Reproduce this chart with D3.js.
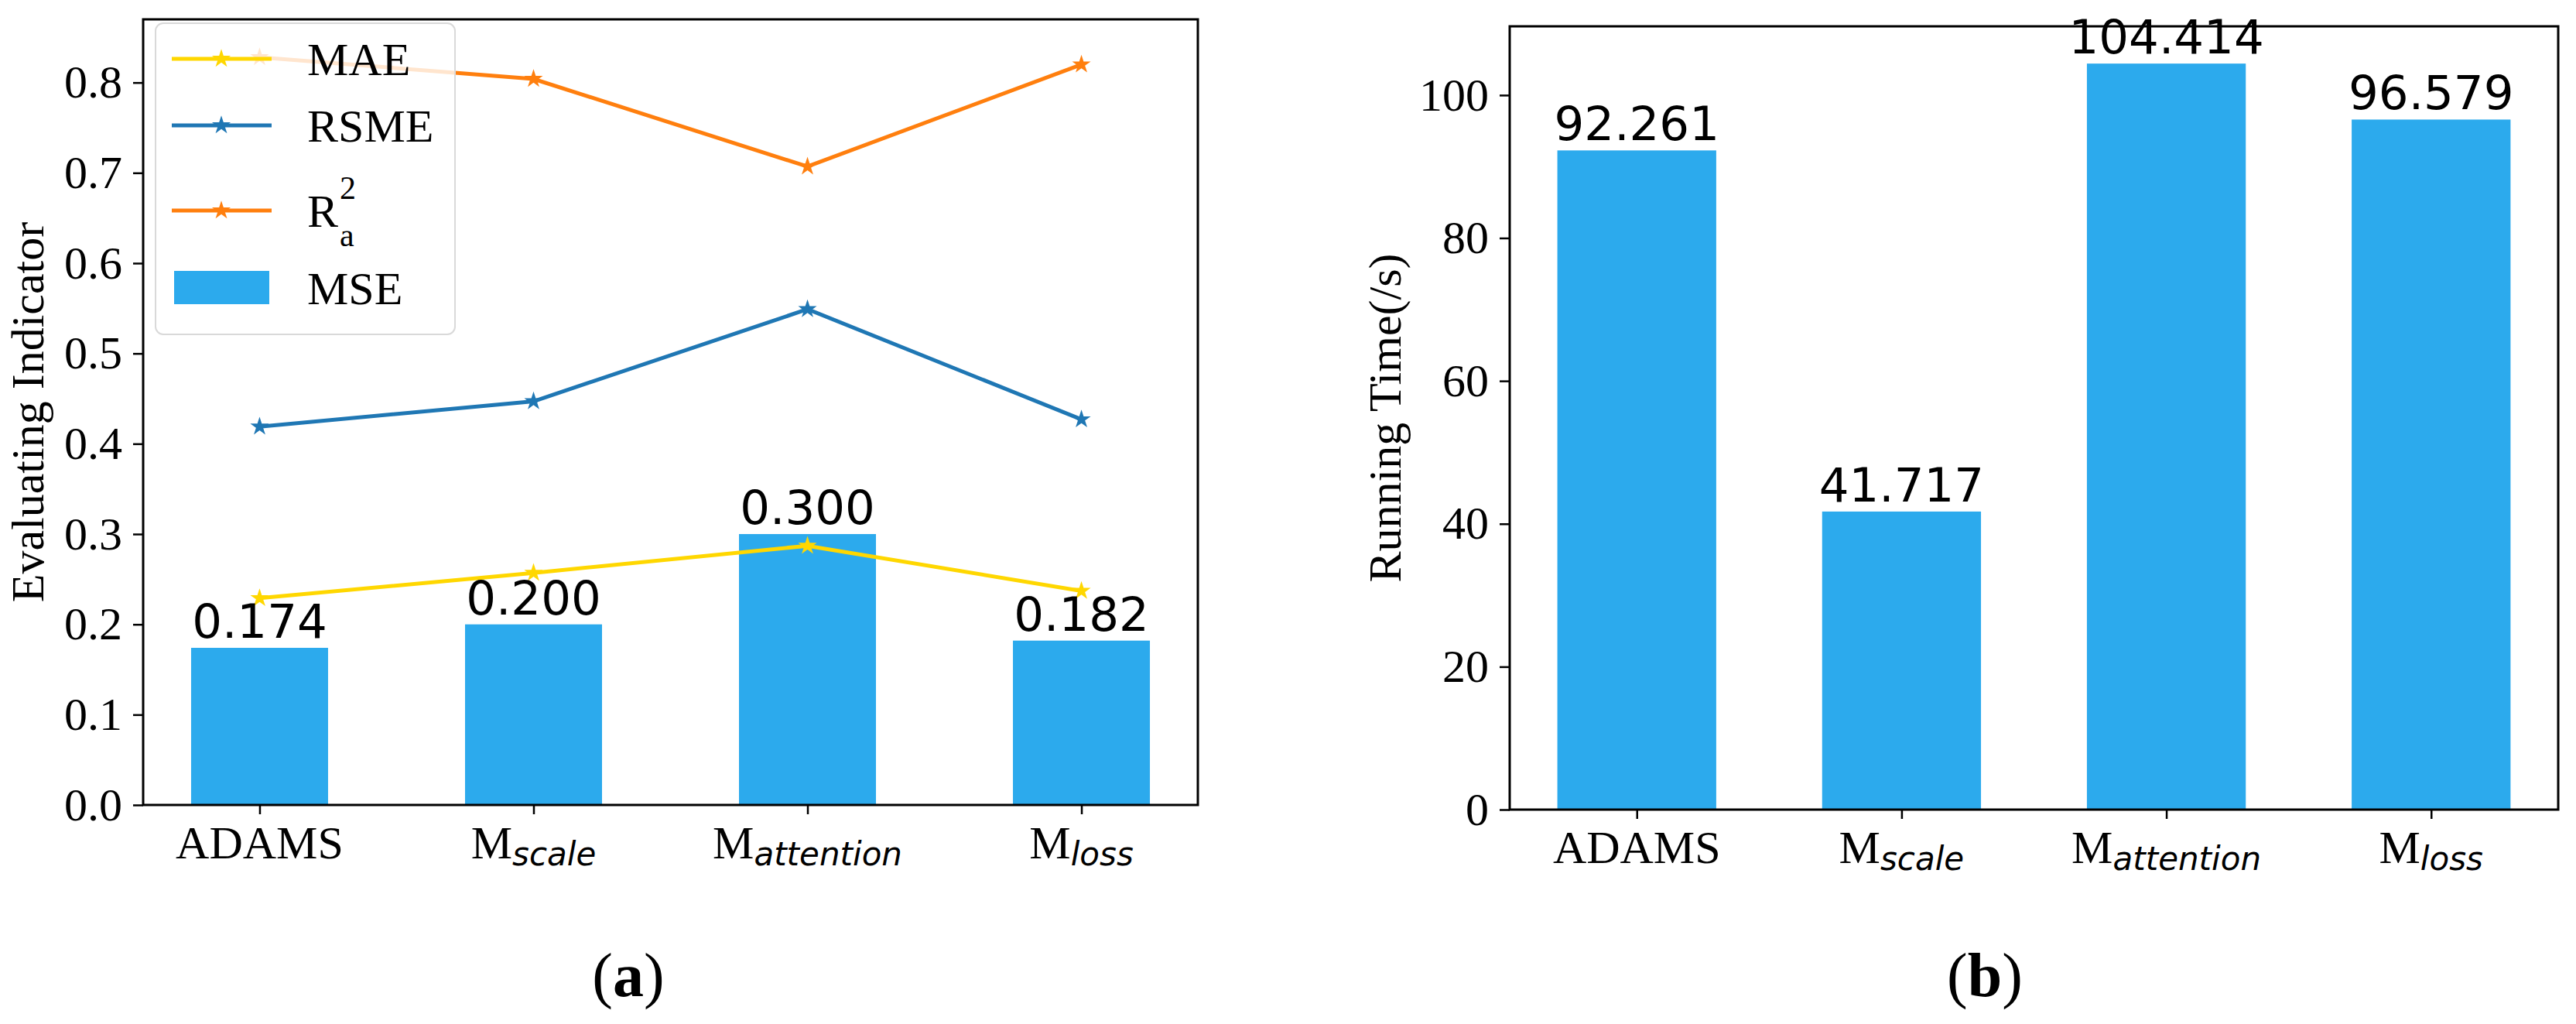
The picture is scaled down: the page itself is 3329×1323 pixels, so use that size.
<!DOCTYPE html>
<html>
<head>
<meta charset="utf-8">
<script src="https://cdn.jsdelivr.net/npm/d3@7"></script>
<style>
  body { margin: 0; background: #fff; }
  svg { display: block; }
</style>
</head>
<body>
<svg id="chart" width="3329" height="1323"></svg>
<script>
// categories (main part + italic subscript)
const methodBase = ["ADAMS", "M", "M", "M"];
const methodSub = ["", "scale", "attention", "loss"];

// panel (a) values
const mse = [0.174, 0.200, 0.300, 0.182];
const mae = [0.229, 0.257, 0.287, 0.237];
const rsme = [0.419, 0.447, 0.549, 0.427];
const r2a = [0.828, 0.804, 0.707, 0.820];
const leftTicks = [0.0, 0.1, 0.2, 0.3, 0.4, 0.5, 0.6, 0.7, 0.8];

// panel (b) values
const runningTime = [92.261, 41.717, 104.414, 96.579];
const rightTicks = [0, 20, 40, 60, 80, 100];

const SERIF = "'Liberation Serif', 'Times New Roman', serif";
const SANS = "'DejaVu Sans', sans-serif";
const barColor = "#2caaed";
const lineColors = { mae: "#ffd700", rsme: "#1f77b4", r2: "#ff7f0e" };

const svg = d3.select("#chart");
const idx = d3.range(methodBase.length);

// ---------- helpers ----------
function drawYAxis(g, y, x0, ticks, fmt) {
  const ax = g.append("g")
    .attr("transform", `translate(${x0},0)`)
    .call(d3.axisLeft(y).tickValues(ticks).tickFormat(fmt).tickSize(13).tickPadding(14));
  ax.select(".domain").remove();
  ax.selectAll(".tick line").attr("stroke", "#000").attr("stroke-width", 2.5);
  ax.selectAll(".tick text")
    .attr("fill", "#000")
    .style("font-family", SERIF)
    .style("font-size", "60px");
}

function drawXAxis(g, x, y0) {
  const ax = g.append("g")
    .attr("transform", `translate(0,${y0})`)
    .call(d3.axisBottom(x).tickValues(idx).tickFormat("").tickSize(12));
  ax.select(".domain").remove();
  ax.selectAll(".tick line").attr("stroke", "#000").attr("stroke-width", 2.5);

  const labels = g.append("g").selectAll("text")
    .data(idx)
    .join("text")
    .attr("x", i => x(i))
    .attr("y", y0 + 69)
    .attr("text-anchor", "middle")
    .style("font-family", SERIF)
    .style("font-size", "60px");
  labels.append("tspan").text(i => methodBase[i]);
  labels.filter(i => methodSub[i] !== "")
    .append("tspan")
    .attr("dy", 9)
    .style("font-family", SANS)
    .style("font-style", "oblique")
    .style("font-size", "42px")
    .text(i => methodSub[i]);
}

function drawBars(g, x, y, values, width) {
  g.append("g").selectAll("rect")
    .data(values)
    .join("rect")
    .attr("x", (d, i) => x(i - width / 2))
    .attr("width", (d, i) => x(i + width / 2) - x(i - width / 2))
    .attr("y", d => y(d))
    .attr("height", d => y(0) - y(d))
    .attr("fill", barColor);
}

function drawBarLabels(g, x, y, values, fmt) {
  g.append("g").selectAll("text")
    .data(values)
    .join("text")
    .attr("x", (d, i) => x(i))
    .attr("y", d => y(d) - 13)
    .attr("text-anchor", "middle")
    .style("font-family", SANS)
    .style("font-size", "61px")
    .text(d => fmt(d));
}

const star = d3.symbol(d3.symbolStar, 180);

// ---------- panel (a) ----------
const ga = svg.append("g");
const xa = d3.scaleLinear().domain([-0.425, 3.425]).range([185, 1548]);
const ya = d3.scaleLinear().domain([0, 0.87]).range([1040, 25]);

drawBars(ga, xa, ya, mse, 0.5);

const line = d3.line().x((d, i) => xa(i)).y(d => ya(d));
[[mae, lineColors.mae], [rsme, lineColors.rsme], [r2a, lineColors.r2]].forEach(([vals, col]) => {
  ga.append("path")
    .datum(vals)
    .attr("d", line)
    .attr("fill", "none")
    .attr("stroke", col)
    .attr("stroke-width", 5);
  ga.append("g").selectAll("path")
    .data(vals)
    .join("path")
    .attr("transform", (d, i) => `translate(${xa(i)},${ya(d)})`)
    .attr("d", star)
    .attr("fill", col);
});

ga.append("rect")
  .attr("x", 185).attr("y", 25)
  .attr("width", 1548 - 185).attr("height", 1040 - 25)
  .attr("fill", "none").attr("stroke", "#000").attr("stroke-width", 3);

drawYAxis(ga, ya, 185, leftTicks, d3.format(".1f"));
drawXAxis(ga, xa, 1040);
drawBarLabels(ga, xa, ya, mse, d3.format(".3f"));

ga.append("text")
  .attr("transform", `translate(56,${(25 + 1040) / 2}) rotate(-90)`)
  .attr("text-anchor", "middle")
  .style("font-family", SERIF)
  .style("font-size", "60px")
  .text("Evaluating Indicator");

// legend
const lg = ga.append("g");
lg.append("rect")
  .attr("x", 201).attr("y", 30)
  .attr("width", 387).attr("height", 402)
  .attr("rx", 10)
  .attr("fill", "#fff").attr("fill-opacity", 0.8)
  .attr("stroke", "#d9d9d9").attr("stroke-width", 2);

const legendRows = [
  { name: "MAE", color: lineColors.mae, cy: 76 },
  { name: "RSME", color: lineColors.rsme, cy: 162 },
  { name: "R", color: lineColors.r2, cy: 272 }
];
legendRows.forEach(r => {
  lg.append("line")
    .attr("x1", 222).attr("x2", 351)
    .attr("y1", r.cy).attr("y2", r.cy)
    .attr("stroke", r.color).attr("stroke-width", 5);
  lg.append("path")
    .attr("transform", `translate(286,${r.cy})`)
    .attr("d", star)
    .attr("fill", r.color);
  lg.append("text")
    .attr("x", 397).attr("y", r.cy + 21)
    .style("font-family", SERIF)
    .style("font-size", "60px")
    .text(r.name);
});
lg.append("text")
  .attr("x", 439).attr("y", 257)
  .style("font-family", SERIF).style("font-size", "42px")
  .text("2");
lg.append("text")
  .attr("x", 439).attr("y", 318)
  .style("font-family", SERIF).style("font-size", "42px")
  .text("a");
lg.append("rect")
  .attr("x", 225).attr("y", 350)
  .attr("width", 123).attr("height", 43)
  .attr("fill", barColor);
lg.append("text")
  .attr("x", 397).attr("y", 393)
  .style("font-family", SERIF)
  .style("font-size", "60px")
  .text("MSE");

// ---------- panel (b) ----------
const gb = svg.append("g");
const xb = d3.scaleLinear().domain([-0.48, 3.48]).range([1951, 3306]);
const yb = d3.scaleLinear().domain([0, 109.63]).range([1046, 34]);

drawBars(gb, xb, yb, runningTime, 0.6);

gb.append("rect")
  .attr("x", 1951).attr("y", 34)
  .attr("width", 3306 - 1951).attr("height", 1046 - 34)
  .attr("fill", "none").attr("stroke", "#000").attr("stroke-width", 3);

drawYAxis(gb, yb, 1951, rightTicks, d3.format("d"));
drawXAxis(gb, xb, 1046);
drawBarLabels(gb, xb, yb, runningTime, d3.format(".3f"));

gb.append("text")
  .attr("transform", `translate(1810,${(34 + 1046) / 2}) rotate(-90)`)
  .attr("text-anchor", "middle")
  .style("font-family", SERIF)
  .style("font-size", "60px")
  .text("Running Time(/s)");

// ---------- sub-figure captions ----------
[["a", 812], ["b", 2565]].forEach(([letter, cx]) => {
  const t = svg.append("text")
    .attr("x", cx).attr("y", 1287)
    .attr("text-anchor", "middle")
    .style("font-family", SERIF)
    .style("font-size", "80px");
  t.append("tspan").text("(");
  t.append("tspan").style("font-weight", "bold").text(letter);
  t.append("tspan").text(")");
});
</script>
</body>
</html>
